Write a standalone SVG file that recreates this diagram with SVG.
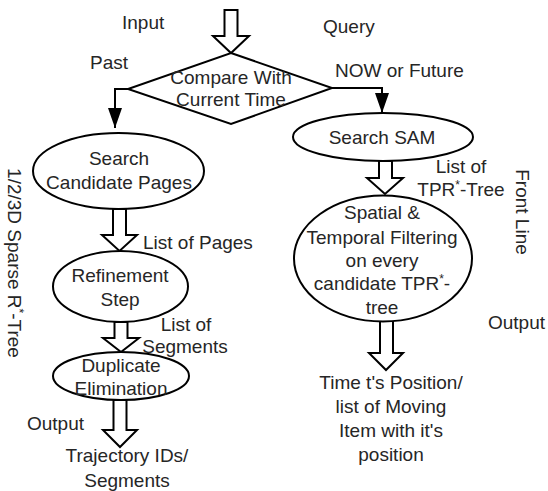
<svg xmlns="http://www.w3.org/2000/svg" width="548" height="491" viewBox="0 0 548 491">
<style>
text{font-family:"Liberation Sans",Arial,sans-serif;font-size:19px;fill:#262626}
.c{text-anchor:middle}
.s{fill:#fff;stroke:#000;stroke-width:2}
.ln{fill:none;stroke:#000;stroke-width:2}
.ba{fill:#fff;stroke:#000;stroke-width:2;stroke-linejoin:miter}
.sup{font-size:12px}
</style>
<defs>
<marker id="ah2" viewBox="0 0 20 14" refX="20" refY="7" markerWidth="20" markerHeight="14" orient="auto" markerUnits="userSpaceOnUse">
<path d="M0,0 L20,7 L0,14 z" fill="#000"/>
</marker>
</defs>
<rect width="548" height="491" fill="#fff"/>
<g id="connectors">
<path class="ln" d="M128,89 H115 V128" marker-end="url(#ah2)"/>
<path class="ln" d="M332,88 H382 V113" marker-end="url(#ah2)"/>
<polygon class="ba" points="224.5,10 237.5,10 237.5,36 249,36 231,53 213,36 224.5,36"/>
<polygon class="ba" points="113,209 126,209 126,235 137,235 119.5,251 102,235 113,235"/>
<polygon class="ba" points="114.5,322 127.5,322 127.5,338 139,338 121,352 103,338 114.5,338"/>
<polygon class="ba" points="113.5,400 126.5,400 126.5,430 137,430 120,447 103,430 113.5,430"/>
<polygon class="ba" points="379,161 392,161 392,178 403,178 385,194 367,178 379,178"/>
<polygon class="ba" points="380,321 393,321 393,353 403,353 386,370 369,353 380,353"/>
</g>
<g id="decision">
<polygon class="s" points="231,53 332,88 231,124 128,89"/>
<text class="c" x="231" y="84">Compare With</text>
<text class="c" x="231" y="106">Current Time</text>
</g>
<g id="search-candidate">
<ellipse class="s" cx="118.5" cy="171" rx="85.5" ry="38"/>
<text class="c" x="119" y="165">Search</text>
<text class="c" x="119" y="189">Candidate Pages</text>
</g>
<g id="refinement">
<ellipse class="s" cx="120.5" cy="286.5" rx="67.5" ry="35.5"/>
<text class="c" x="120" y="282">Refinement</text>
<text class="c" x="120" y="306">Step</text>
</g>
<g id="duplicate">
<ellipse class="s" cx="121" cy="376" rx="68" ry="24"/>
<text class="c" x="121" y="372">Duplicate</text>
<text class="c" x="121" y="395">Elimination</text>
</g>
<g id="search-sam">
<ellipse class="s" cx="383" cy="137" rx="90" ry="24"/>
<text class="c" x="382" y="144">Search SAM</text>
</g>
<g id="filtering">
<ellipse class="s" cx="383" cy="258.5" rx="89" ry="63"/>
<text class="c" x="382" y="219">Spatial &amp;</text>
<text class="c" x="382" y="244">Temporal Filtering</text>
<text class="c" x="382" y="267">on every</text>
<text class="c" x="382" y="290">candidate TPR<tspan class="sup" dy="-7">*</tspan><tspan dy="7">-</tspan></text>
<text class="c" x="382" y="314">tree</text>
</g>
<g id="labels">
<text x="122" y="29">Input</text>
<text x="323" y="33">Query</text>
<text x="90" y="69">Past</text>
<text x="335" y="77">NOW or Future</text>
<text x="143" y="249">List of Pages</text>
<text class="c" x="186" y="331">List of</text>
<text class="c" x="185" y="353">Segments</text>
<text x="27" y="430">Output</text>
<text class="c" x="127" y="462">Trajectory IDs/</text>
<text class="c" x="127" y="487">Segments</text>
<text class="c" x="461" y="173">List of</text>
<text class="c" x="461" y="196">TPR<tspan class="sup" dy="-7">*</tspan><tspan dy="7">-Tree</tspan></text>
<text x="488" y="329">Output</text>
<text class="c" x="391" y="389">Time t's Position/</text>
<text class="c" x="391" y="413">list of Moving</text>
<text class="c" x="391" y="437">Item with it's</text>
<text class="c" x="391" y="461">position</text>
<text class="c" transform="translate(516,212) rotate(90)">Front Line</text>
<text class="c" transform="translate(8,263) rotate(90)">1/2/3D Sparse R<tspan class="sup" dy="-7">*</tspan><tspan dy="7">-Tree</tspan></text>
</g>
</svg>
